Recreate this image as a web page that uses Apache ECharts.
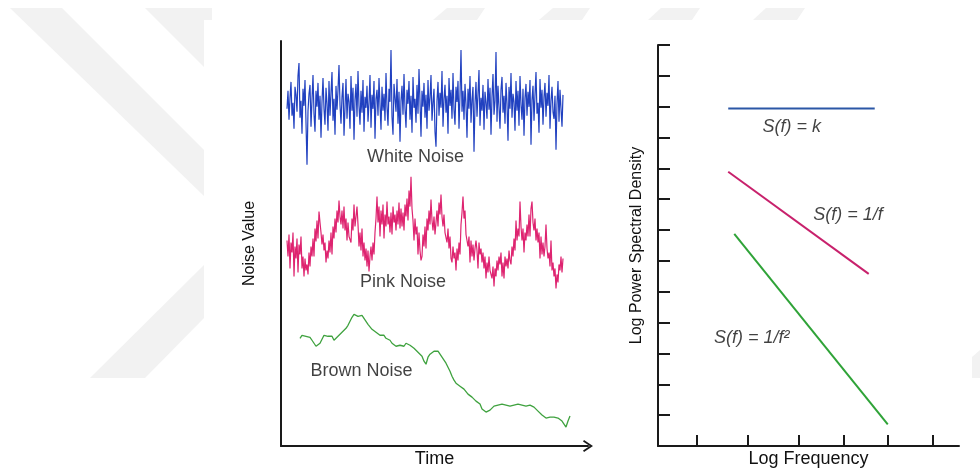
<!DOCTYPE html>
<html>
<head>
<meta charset="utf-8">
<script src="https://cdn.jsdelivr.net/npm/echarts@6/dist/echarts.min.js"></script>
<style>
html,body{margin:0;padding:0;background:#fff;}
#chart{width:980px;height:473px;}
</style>
</head>
<body>
<div id="chart"></div>
<script>
// ---------- Left panel: noise time series (time units, arbitrary noise value units) ----------
const whiteStep = 1;
const pinkStep = 1;
const brownStep = 2;
const whiteStart = 6;
const pinkStart = 6;
const brownStart = 19;

const whiteNoise = [
  338,356,327,349,365,331,344,318,360,352,335,371,384,329,346,313,358,341,367,324,
  282,336,353,362,320,347,372,333,315,356,340,364,327,351,309,345,369,338,322,359,
  343,316,366,331,354,375,326,348,312,361,337,357,382,342,323,350,364,311,339,368,
  328,353,345,318,371,336,359,307,347,363,330,376,341,322,356,334,367,315,350,339,
  361,325,344,372,319,352,338,366,308,348,357,331,369,342,317,360,336,353,326,374,
  340,321,358,345,397,330,312,363,349,335,368,323,355,305,346,361,332,373,338,319,
  357,343,366,327,351,314,370,339,348,324,362,333,378,345,310,356,340,364,329,352,
  318,367,336,349,372,326,344,358,315,300,346,365,331,354,339,376,320,348,362,334,
  351,313,369,341,357,328,374,337,322,360,345,366,318,352,397,335,356,327,363,342,
  309,358,338,371,324,347,360,295,343,365,330,353,377,321,349,336,362,317,355,344,
  328,368,337,359,312,350,373,332,346,395,325,361,340,318,357,370,334,351,323,364,
  343,306,360,338,374,329,353,345,316,366,336,356,321,371,342,327,358,311,349,363,
  331,355,340,367,302,347,361,326,352,375,333,344,314,368,339,357,322,350,364,330,
  354,341,372,318,346,360,335,328,351,297,343,366,325,357,338,320,352
];

const pinkNoise = [
  206,190,212,178,204,194,214,170,200,188,208,174,202,192,210,178,190,170,188,176,
  182,172,194,180,200,190,208,190,218,205,226,208,235,224,214,202,212,196,204,184,
  196,188,206,194,214,192,220,208,228,214,236,224,246,230,222,236,218,240,216,228,
  206,224,210,210,204,228,216,242,220,230,240,222,200,214,196,218,190,204,186,198,
  180,196,175,190,200,186,204,192,214,228,250,224,240,210,236,222,242,208,232,220,
  245,222,230,214,234,212,240,224,232,216,236,222,244,218,238,220,234,216,242,230,
  248,226,256,240,270,238,226,206,228,212,220,192,214,196,186,190,212,200,220,198,
  228,216,236,222,247,226,216,230,212,214,236,220,244,232,252,230,220,232,214,214,
  204,218,198,210,188,184,200,188,194,176,198,186,204,192,222,234,250,228,236,212,
  214,200,210,184,206,190,202,186,198,206,196,178,204,192,198,184,194,178,190,168,
  184,174,190,176,172,168,180,160,178,170,186,176,190,182,194,170,184,168,190,180,
  188,178,196,186,182,200,190,208,196,226,206,218,210,245,220,206,218,194,214,206,
  222,210,232,210,238,245,224,216,228,206,218,204,214,188,210,192,204,190,200,222,
  198,188,194,180,206,176,184,170,178,158,172,164,182,176,190,174,188
];

const brownNoise = [
  108,111,113,110,112,109,106,103,100,99,
  103,107,111,113,110,108,110,106,107,110,
  112,114,116,118,121,125,129,132,133,130,
  128,131,129,125,122,120,117,116,114,113,
  111,110,111,108,109,106,103,102,100,99,
  101,102,100,103,104,101,100,98,96,94,
  92,90,85,82,89,92,94,95,97,95,
  92,90,86,83,79,75,70,66,63,61,
  60,58,57,55,52,50,49,47,45,44,
  42,37,35,34,34,36,38,40,39,41,
  40,42,43,41,43,40,39,41,43,42,
  40,41,39,40,38,41,42,39,37,35,
  33,31,30,28,27,29,30,29,27,28,
  26,25,22,19,25,30
];

const noiseLabels = ['White Noise', 'Pink Noise', 'Brown Noise'];
const noiseLabelPos = [[134.5, 289.5], [122, 164], [80.5, 75.5]];

// ---------- Right panel: log power spectral density vs log frequency ----------
const freqTicks = [39, 89, 140, 185, 229, 274];
const whiteSpectrum = [[70, 10.94], [216, 10.94]];
const pinkSpectrum  = [[70, 8.89], [210, 5.58]];
const brownSpectrum = [[76, 6.88], [229, 0.70]];
const spectrumLabels = ['S(f) = k', 'S(f) = 1/f', 'S(f) = 1/f\u00b2'];
const spectrumLabelPos = [[133.3, 10.33], [189.4, 7.5], [93.4, 3.49]];

// ---------- Build chart ----------
const FONT = 'Arial, "Liberation Sans", Helvetica, sans-serif';
const AXIS_COLOR = '#1a1a1a';
const TEXT_COLOR = '#111';

function toPairs(arr, start, step) {
  return arr.map((v, i) => [start + i * step, v]);
}

const chart = echarts.init(document.getElementById('chart'), null, {renderer: 'canvas'});

const wm = '#f2f2f2';
const option = {
  animation: false,
  backgroundColor: '#fff',
  textStyle: {fontFamily: FONT},
  graphic: [
    // faint watermark behind the figure
    {type: 'polygon', z: -20, silent: true, shape: {points: [[10,8],[62,8],[204,150],[204,196]]}, style: {fill: wm}},
    {type: 'polygon', z: -20, silent: true, shape: {points: [[145,8],[212,8],[212,20],[204,20],[204,67]]}, style: {fill: wm}},
    {type: 'polygon', z: -20, silent: true, shape: {points: [[90,378],[145,378],[204,318],[204,265]]}, style: {fill: wm}},
    {type: 'polygon', z: -20, silent: true, shape: {points: [[447,8],[485,8],[477,20],[433,20]]}, style: {fill: wm}},
    {type: 'polygon', z: -20, silent: true, shape: {points: [[553,8],[590,8],[582,20],[539,20]]}, style: {fill: wm}},
    {type: 'polygon', z: -20, silent: true, shape: {points: [[661,8],[700,8],[692,20],[648,20]]}, style: {fill: wm}},
    {type: 'polygon', z: -20, silent: true, shape: {points: [[766,8],[805,8],[797,20],[753,20]]}, style: {fill: wm}},
    {type: 'polygon', z: -20, silent: true, shape: {points: [[972,357],[980,350],[980,378],[972,378]]}, style: {fill: wm}},
    {type: 'rect', z: -19, silent: true, shape: {x: 204, y: 20, width: 768, height: 453}, style: {fill: '#fff'}}
  ],
  grid: [
    {left: 281, top: 41, width: 307, height: 406},
    {left: 658, top: 45, width: 301, height: 402}
  ],
  xAxis: [
    {
      gridIndex: 0, type: 'value', min: 0, max: 307,
      axisLine: {show: true, onZero: false,
        symbol: ['none', 'path://M6,0 L12,9 L10.6,10 L6,3.2 L1.4,10 L0,9 Z'],
        symbolSize: [12, 10],
        lineStyle: {color: AXIS_COLOR, width: 2}},
      axisTick: {show: false}, axisLabel: {show: false}, splitLine: {show: false},
      name: 'Time', nameLocation: 'middle', nameGap: 4,
      nameTextStyle: {fontSize: 18, color: TEXT_COLOR, fontFamily: FONT, verticalAlign: 'top'}
    },
    {
      gridIndex: 1, type: 'value', min: 0, max: 300,
      axisLine: {show: true, onZero: false, lineStyle: {color: AXIS_COLOR, width: 2}},
      axisTick: {show: true, inside: true, length: 11, customValues: freqTicks,
        lineStyle: {color: AXIS_COLOR, width: 2}},
      axisLabel: {show: false}, splitLine: {show: false},
      name: 'Log Frequency', nameLocation: 'middle', nameGap: 4,
      nameTextStyle: {fontSize: 18, color: TEXT_COLOR, fontFamily: FONT, verticalAlign: 'top'}
    }
  ],
  yAxis: [
    {
      gridIndex: 0, type: 'value', min: 0, max: 406,
      axisLine: {show: true, onZero: false, lineStyle: {color: AXIS_COLOR, width: 2}},
      axisTick: {show: false}, axisLabel: {show: false}, splitLine: {show: false},
      name: 'Noise Value', nameLocation: 'middle', nameGap: 23, nameRotate: 90,
      nameTextStyle: {fontSize: 16, color: TEXT_COLOR, fontFamily: FONT}
    },
    {
      gridIndex: 1, type: 'value', min: 0, max: 13, interval: 1,
      axisLine: {show: true, onZero: false, lineStyle: {color: AXIS_COLOR, width: 2}},
      axisTick: {show: true, inside: true, length: 12, lineStyle: {color: AXIS_COLOR, width: 2}},
      axisLabel: {show: false}, splitLine: {show: false},
      name: 'Log Power Spectral Density', nameLocation: 'middle', nameGap: 13, nameRotate: 90,
      nameTextStyle: {fontSize: 16, color: TEXT_COLOR, fontFamily: FONT}
    }
  ],
  series: [
    {name: 'White Noise', type: 'line', xAxisIndex: 0, yAxisIndex: 0, showSymbol: false,
      data: toPairs(whiteNoise, whiteStart, whiteStep), lineStyle: {color: '#2141c0', width: 1.2}},
    {name: 'Pink Noise', type: 'line', xAxisIndex: 0, yAxisIndex: 0, showSymbol: false,
      data: toPairs(pinkNoise, pinkStart, pinkStep), lineStyle: {color: '#de2470', width: 1.2}},
    {name: 'Brown Noise', type: 'line', xAxisIndex: 0, yAxisIndex: 0, showSymbol: false,
      data: toPairs(brownNoise, brownStart, brownStep), lineStyle: {color: '#3fa23f', width: 1.3}},
    {name: 'noise labels', type: 'scatter', xAxisIndex: 0, yAxisIndex: 0, symbolSize: 0, silent: true,
      data: noiseLabels.map((t, i) => ({name: t, value: noiseLabelPos[i]})),
      label: {show: true, position: 'inside', formatter: '{b}', fontSize: 18, color: TEXT_COLOR, fontFamily: FONT}},
    {name: 'S(f) = k', type: 'line', xAxisIndex: 1, yAxisIndex: 1, showSymbol: false,
      data: whiteSpectrum, lineStyle: {color: '#2b57a6', width: 2}},
    {name: 'S(f) = 1/f', type: 'line', xAxisIndex: 1, yAxisIndex: 1, showSymbol: false,
      data: pinkSpectrum, lineStyle: {color: '#c8216c', width: 2}},
    {name: 'S(f) = 1/f\u00b2', type: 'line', xAxisIndex: 1, yAxisIndex: 1, showSymbol: false,
      data: brownSpectrum, lineStyle: {color: '#2fa338', width: 2}},
    {name: 'spectrum labels', type: 'scatter', xAxisIndex: 1, yAxisIndex: 1, symbolSize: 0, silent: true,
      data: spectrumLabels.map((t, i) => ({name: t, value: spectrumLabelPos[i]})),
      label: {show: true, position: 'inside', formatter: '{b}', fontSize: 18, fontStyle: 'italic', color: TEXT_COLOR, fontFamily: FONT}}
  ]
};
chart.setOption(option);
</script>
</body>
</html>
